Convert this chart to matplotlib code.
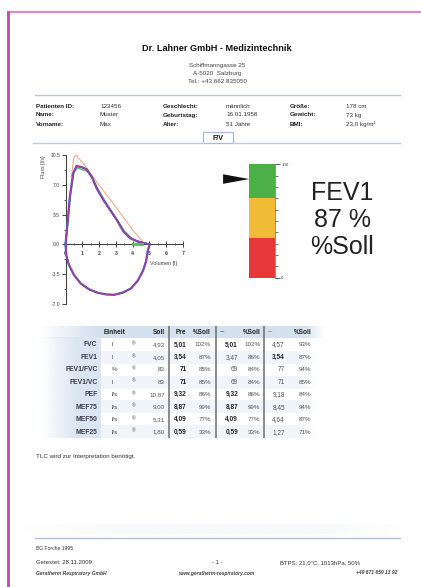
import matplotlib
matplotlib.use('Agg')
import matplotlib.pyplot as plt
import numpy as np
from matplotlib.patches import Rectangle, Polygon
import matplotlib.transforms as mtransforms
from matplotlib.colors import to_rgb

plt.rcParams['font.family'] = ['Liberation Sans', 'DejaVu Sans']

# ---------------- data ----------------
company = "Dr. Lahner GmbH - Medizintechnik"
address = ["Schiffmanngasse 25", "A-5020  Salzburg", "Tel.: +43 662 835050"]
info_labels_1 = ["Patienten ID:", "Name:", "Vorname:"]
info_values_1 = ["123456", "Muster", "Max"]
info_labels_2 = ["Geschlecht:", "Geburtstag:", "Alter:"]
info_values_2 = ["männlich", "16.01.1958", "51 Jahre"]
info_labels_3 = ["Größe:", "Gewicht:", "BMI:"]
info_values_3 = ["178 cm", "73 kg", "23,0 kg/m²"]

# flow-volume loop (measured, best trial)
vol_exp = [0.0, 0.1, 0.26, 0.46, 0.66, 0.96, 1.26, 1.56, 1.86, 2.26, 2.66, 3.06, 3.46, 3.86, 4.36, 4.76, 4.96, 5.01]
flow_exp = [0.0, 2.0, 5.6, 8.4, 9.24, 9.1, 8.85, 7.98, 6.6, 5.23, 4.05, 2.87, 1.49, 0.71, 0.31, 0.12, 0.03, 0.0]
vol_insp = [5.01, 4.9, 4.8, 4.62, 4.3, 3.9, 3.4, 2.9, 2.4, 1.9, 1.4, 0.9, 0.5, 0.2, 0.05, 0.0]
flow_insp = [0.0, -0.8, -2.0, -3.1, -4.3, -5.2, -5.7, -5.95, -5.9, -5.7, -5.3, -4.6, -3.6, -2.4, -1.3, 0.0]
# third trial (green)
vol_g = [0.0, 0.1, 0.3, 0.5, 0.7, 1.0, 1.3, 1.6, 2.0, 2.5, 3.0, 3.5, 4.0, 4.3, 4.57]
flow_g = [0.0, 2.0, 6.0, 8.5, 9.0, 8.8, 8.6, 7.8, 6.3, 4.6, 3.1, 1.6, 0.6, 0.25, 0.0]
# predicted curve
vol_pred = [0.35, 0.5, 0.62, 1.0, 2.0, 3.0, 4.0, 4.6]
flow_pred = [8.0, 10.3, 10.5, 9.7, 7.0, 4.4, 1.7, 0.3]

y_ticks = [-7.0, -3.5, 0.0, 3.5, 7.0, 10.5]
x_ticks = [0, 1, 2, 3, 4, 5, 6, 7]

# gauge
gauge_bounds = [0, 35, 70, 100]
gauge_colors = ['#e8373a', '#f0bb35', '#4caf48']
fev1_pct = 87

# table
params = ["FVC", "FEV1", "FEV1/FVC", "FEV1/VC", "PEF", "MEF75", "MEF50", "MEF25"]
units = ["l", "l", "%", "l", "l/s", "l/s", "l/s", "l/s"]
soll = ["4,92", "4,05", "83", "83", "10,87", "9,00", "5,31", "1,80"]
pre = ["5,01", "3,54", "71", "71", "9,32", "8,87", "4,09", "0,59"]
pre_pct = ["102%", "87%", "85%", "85%", "86%", "99%", "77%", "33%"]
t2 = ["5,01", "3,47", "69", "69", "9,32", "8,87", "4,09", "0,59"]
t2_bold = [True, False, False, False, True, True, True, True]
t2_pct = ["102%", "86%", "84%", "84%", "86%", "99%", "77%", "33%"]
t3 = ["4,57", "3,54", "77", "71", "9,18", "8,45", "4,64", "1,27"]
t3_bold = [False, True, False, False, False, False, False, False]
t3_pct = ["93%", "87%", "94%", "85%", "84%", "94%", "87%", "71%"]

note = "TLC wird zur Interpretation benötigt."

# ---------------- figure ----------------
W, H = 421, 587
fig = plt.figure(figsize=(W / 100, H / 100), dpi=100)
fig.patch.set_facecolor('white')
page = fig.add_axes([0, 0, 1, 1])
page.set_xlim(0, W)
page.set_ylim(H, 0)
page.axis('off')


def px_axes(x0, y0, x1, y1):
    return fig.add_axes([x0 / W, 1 - y1 / H, (x1 - x0) / W, (y1 - y0) / H])


def T(x, y, s, **kw):
    kw.setdefault('va', 'center')
    kw.setdefault('color', '#333333')
    page.text(x, y, s, **kw)


def hgrad(x0, x1, y0, y1, color, fade_in=0.25, fade_out=0.1, z=0):
    n = 200
    a = np.ones(n)
    fi = int(n * fade_in)
    fo = int(n * fade_out)
    if fi:
        a[:fi] = np.linspace(0, 1, fi)
    if fo:
        a[n - fo:] = np.linspace(1, 0, fo)
    r, g, b = to_rgb(color)
    img = np.zeros((1, n, 4))
    img[..., 0] = r
    img[..., 1] = g
    img[..., 2] = b
    img[..., 3] = a
    page.imshow(img, extent=(x0, x1, y1, y0), aspect='auto', zorder=z, interpolation='bilinear')


# page border
page.plot([7, W], [12, 12], color='#dc8cc6', lw=1.6, solid_capstyle='butt')
page.plot([7.6, 7.6], [11.2, H], color='#c24aa0', lw=2.0, solid_capstyle='butt')

# header
T(217, 48.5, company, ha='center', fontsize=6.6, fontweight='bold', color='#111111')
for i, line in enumerate(address):
    T(217, 65.5 + 8.1 * i, line, ha='center', fontsize=4.5, color='#444444')
page.plot([35, 400], [95, 95], color='#b7c7dc', lw=1.0)

rows_y = [106, 115, 124.5]
for i in range(3):
    T(36, rows_y[i], info_labels_1[i], fontsize=4.5, fontweight='bold', color='#222222')
    T(100, rows_y[i], info_values_1[i], fontsize=4.5)
    T(163, rows_y[i], info_labels_2[i], fontsize=4.5, fontweight='bold', color='#222222')
    T(226, rows_y[i], info_values_2[i], fontsize=4.5)
    T(290, rows_y[i], info_labels_3[i], fontsize=4.5, fontweight='bold', color='#222222')
    T(346, rows_y[i], info_values_3[i], fontsize=4.5)

# tab
page.plot([33, 203], [142.7, 142.7], color='#bccbe0', lw=1.0)
page.plot([233, 400], [142.7, 142.7], color='#bccbe0', lw=1.0)
page.add_patch(Rectangle((203, 131.5), 30, 11.2, facecolor='white', edgecolor='#a9bcd6', lw=0.9))
T(218, 138.5, "F/V", ha='center', fontsize=5, fontweight='bold', color='#111111')

# ---------------- flow-volume chart ----------------
ax = px_axes(65.5, 155.3, 183, 303.7)
ax.set_xlim(0, 7)
ax.set_ylim(-7, 10.5)
ax.patch.set_alpha(0)
for s in ['top', 'right']:
    ax.spines[s].set_visible(False)
ax.spines['bottom'].set_position(('data', 0))
ax.spines['left'].set_color('#444444')
ax.spines['bottom'].set_color('#444444')
ax.spines['left'].set_linewidth(0.8)
ax.spines['bottom'].set_linewidth(0.8)
ax.set_yticks(y_ticks)
ax.set_yticklabels([f"{v:.1f}" for v in y_ticks])
ax.set_yticks(np.arange(-7, 10.6, 1.75), minor=True)
ax.set_xticks(x_ticks)
ax.set_xticklabels([str(v) for v in x_ticks])
ax.set_xticks(np.arange(0, 7.01, 0.5), minor=True)
ax.tick_params(axis='y', which='major', length=3, width=0.7, labelsize=3.6, pad=1, colors='#444444')
ax.tick_params(axis='y', which='minor', length=1.6, width=0.6, colors='#444444')
ax.tick_params(axis='x', which='major', direction='inout', length=4, width=0.7, labelsize=3.8, pad=3, colors='#444444')
ax.tick_params(axis='x', which='minor', direction='inout', length=2, width=0.6, colors='#444444')
for lab in ax.get_xticklabels():
    lab.set_fontweight('bold')

ax.plot(vol_pred, flow_pred, color='#f2a283', lw=0.7, clip_on=False, zorder=2)
ax.plot(vol_g, flow_g, color='#7cc47a', lw=1.2, clip_on=False, zorder=3)
ax.plot(vol_exp, flow_exp, color='#4a55c4', lw=1.6, clip_on=False, zorder=4)
ax.plot(vol_insp, flow_insp, color='#4a55c4', lw=1.6, clip_on=False, zorder=4)
ax.plot(vol_exp, flow_exp, color='#a2409c', lw=1.0, clip_on=False, zorder=5)
ax.plot(vol_insp, flow_insp, color='#a2409c', lw=1.0, clip_on=False, zorder=5)
ax.plot([vol_g[-3], vol_g[-1]], [0.0, 0.0], color='#4fbf58', lw=2.0, clip_on=False, zorder=6)

T(43, 167, "Fluss [l/s]", ha='center', fontsize=3.8, rotation=90, color='#444444')
T(163, 263, "Volumen [l]", ha='center', fontsize=3.9, color='#444444')

# ---------------- gauge ----------------
g = px_axes(249.3, 164.3, 275, 277.7)
g.set_xlim(0, 1)
g.set_ylim(0, 100)
for i in range(3):
    g.bar(0.5, gauge_bounds[i + 1] - gauge_bounds[i], bottom=gauge_bounds[i], width=1.0,
          color=gauge_colors[i], edgecolor='none')
for s in ['top', 'left', 'bottom']:
    g.spines[s].set_visible(False)
g.spines['right'].set_color('#666666')
g.spines['right'].set_linewidth(0.5)
g.set_xticks([])
g.yaxis.tick_right()
g.set_yticks([0, 100])
g.set_yticklabels(['0', '100'])
g.set_yticks(np.arange(0, 101, 10), minor=True)
g.tick_params(axis='y', which='major', length=3.5, width=0.6, labelsize=3.2, pad=1, colors='#444444')
g.tick_params(axis='y', which='minor', length=2, width=0.5, colors='#444444')
trans = mtransforms.blended_transform_factory(g.transAxes, g.transData)
tri = Polygon([[-1.02, fev1_pct + 4.2], [-1.02, fev1_pct - 4.2], [0.0, fev1_pct]], closed=True,
              transform=trans, facecolor='#111111', edgecolor='none', clip_on=False)
g.add_patch(tri)

T(342, 193, "FEV1", ha='center', fontsize=18, color='#222222')
T(342, 220, f"{fev1_pct} %", ha='center', fontsize=18, color='#222222')
T(342, 247, "%Soll", ha='center', fontsize=18, color='#222222')

# ---------------- table ----------------
hdr_y = 332
row0 = 345
dy = 12.45
tab_bottom = row0 + dy * 7 + 6
hgrad(40, 325, hdr_y - 6, hdr_y + 6, '#d4e1ef', fade_in=0.2, fade_out=0.08, z=0)
hgrad(40, 101, hdr_y + 6, tab_bottom, '#dce6f2', fade_in=0.6, fade_out=0.0, z=0)
for i in range(8):
    if i % 2 == 1:
        hgrad(101, 318, row0 + dy * i - dy / 2, row0 + dy * i + dy / 2, '#f1f5fa', fade_in=0.0, fade_out=0.1, z=0)

fs = 4.7
T(115, hdr_y, "Einheit", ha='center', fontsize=fs, fontweight='bold', color='#222222')
T(165, hdr_y, "Soll", ha='right', fontsize=fs, fontweight='bold', color='#222222')
T(186.5, hdr_y, "Pre", ha='right', fontsize=fs, fontweight='bold', color='#222222')
T(211, hdr_y, "%Soll", ha='right', fontsize=fs, fontweight='bold', color='#222222')
T(220, hdr_y, "–", ha='left', fontsize=fs + 1, fontweight='bold', color='#a040a0')
T(260.5, hdr_y, "%Soll", ha='right', fontsize=fs, fontweight='bold', color='#222222')
T(267.5, hdr_y, "–", ha='left', fontsize=fs + 1, fontweight='bold', color='#5cc05c')
T(311.5, hdr_y, "%Soll", ha='right', fontsize=fs, fontweight='bold', color='#222222')

for i in range(8):
    y = row0 + dy * i
    T(97.5, y, params[i], ha='right', fontsize=fs + 0.2, fontweight='bold', color='#3a3a4a')
    T(111.5, y, units[i], ha='left', fontsize=fs - 0.3, color='#444444')
    T(134, y - 1, "®", ha='center', fontsize=3.4, color='#444444')
    T(165, y, soll[i], ha='right', fontsize=fs - 0.2, color='#555555')
    T(186.5, y, pre[i], ha='right', fontsize=fs, fontweight='bold', color='#222222')
    T(211, y, pre_pct[i], ha='right', fontsize=fs - 0.2, color='#555555')
    T(238, y, t2[i], ha='right', fontsize=fs, fontweight='bold' if t2_bold[i] else 'normal',
      color='#222222' if t2_bold[i] else '#555555')
    T(260.5, y, t2_pct[i], ha='right', fontsize=fs - 0.2, color='#555555')
    T(285, y, t3[i], ha='right', fontsize=fs, fontweight='bold' if t3_bold[i] else 'normal',
      color='#222222' if t3_bold[i] else '#555555')
    T(311.5, y, t3_pct[i], ha='right', fontsize=fs - 0.2, color='#555555')

for xs in [169.3, 216.3, 264.3]:
    page.plot([xs, xs], [hdr_y - 6, tab_bottom], color='#6e6e6e', lw=1.1, solid_capstyle='butt')

T(36, 456.5, note, ha='left', fontsize=4.5, color='#333333')

# ---------------- footer ----------------
hgrad(20, 400, 524, 534, '#f8f9fa', fade_in=0.3, fade_out=0.2, z=0)
page.plot([35, 400], [538, 538], color='#b3c3d9', lw=1.0)
T(36, 548.5, "BG Forche 1995", ha='left', fontsize=3.6, color='#333333')
T(36, 563, "Getestet: 28.11.2009", ha='left', fontsize=4.3, color='#333333')
T(36, 573, "Geratherm Respiratory GmbH", ha='left', fontsize=3.6, style='italic', fontweight='bold', color='#444444')
T(217, 563, "- 1 -", ha='center', fontsize=4.3, color='#333333')
T(217, 573, "www.geratherm-respiratory.com", ha='center', fontsize=3.6, style='italic', fontweight='bold', color='#444444')
T(280, 563, "BTPS: 21,0°C, 1013hPa, 50%", ha='left', fontsize=4.3, color='#333333')
T(397, 573, "+49 871 659 13 92", ha='right', fontsize=3.6, style='italic', fontweight='bold', color='#444444')

fig.savefig('out.png', dpi=100, facecolor='white')
